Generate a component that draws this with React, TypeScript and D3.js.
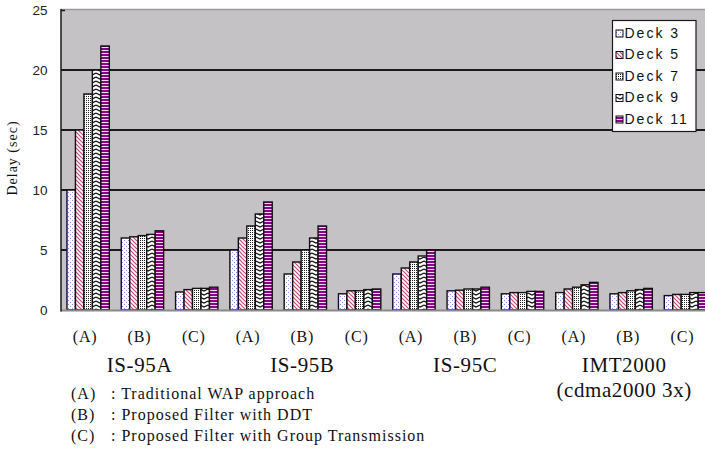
import React from "react";
import * as d3 from "d3";

const systems = ["IS-95A", "IS-95B", "IS-95C", "IMT2000"];
const methods = ["(A)", "(B)", "(C)"];
const decks = ["Deck 3", "Deck 5", "Deck 7", "Deck 9", "Deck 11"];
const deck3 = [10, 6.0, 1.5, 5, 3, 1.35, 3, 1.6, 1.35, 1.45, 1.35, 1.2];
const deck5 = [15, 6.1, 1.7, 6, 4, 1.6, 3.5, 1.65, 1.45, 1.75, 1.45, 1.3];
const deck7 = [18, 6.2, 1.8, 7, 5, 1.6, 4, 1.75, 1.45, 1.9, 1.6, 1.3];
const deck9 = [20, 6.3, 1.8, 8, 6, 1.7, 4.5, 1.75, 1.55, 2.1, 1.7, 1.45];
const deck11 = [22, 6.6, 1.9, 9, 7, 1.75, 5, 1.9, 1.55, 2.3, 1.8, 1.45];
const yTicks = [0, 5, 10, 15, 20, 25];
const footnotes = [
  ["(A)", ": Traditional WAP approach"],
  ["(B)", ": Proposed Filter with DDT"],
  ["(C)", ": Proposed Filter with Group Transmission"],
];

const series = [deck3, deck5, deck7, deck9, deck11];
const patIds = ["p3", "p5", "p7", "p9", "p11"];

export default function App() {
  const W = 705, H = 451;
  const left = 61, top = 10, bottom = 310;
  const step = 54.3;
  const groups = systems.flatMap((s) => methods.map((m) => s + m));
  const x = d3.scaleBand<string>().domain(groups).range([left, left + step * groups.length]).paddingInner(0.22).paddingOuter(0.11);
  const xi = d3.scaleBand<string>().domain(decks).range([0, x.bandwidth()]);
  const y = d3.scaleLinear().domain([0, 25]).range([bottom, top]);
  const serif = "'Liberation Serif', 'DejaVu Serif', serif";
  const sans = "'Liberation Sans', Arial, sans-serif";

  return (
    <svg width={W} height={H} style={{ display: "block", position: "absolute", left: 0, top: 0 }}>
      <defs>
        <pattern id="p3" width={4} height={4} patternUnits="userSpaceOnUse">
          <rect width={4} height={4} fill="#fff" />
          <rect x={0} y={0} width={1} height={1} fill="#8c8cf0" />
          <rect x={2} y={2} width={1} height={1} fill="#8c8cf0" />
        </pattern>
        <pattern id="p5" width={4} height={4} patternUnits="userSpaceOnUse">
          <rect width={4} height={4} fill="#fff" />
          <path d="M-1,-1 L5,5 M-1,3 L1,5 M3,-1 L5,1" stroke="#c8467c" strokeWidth={1.2} />
        </pattern>
        <pattern id="p7" width={2} height={2} patternUnits="userSpaceOnUse">
          <rect width={2} height={2} fill="#fff" />
          <rect x={0} y={0} width={1} height={1} fill="#222" />
        </pattern>
        <pattern id="p9" width={8} height={4} patternUnits="userSpaceOnUse">
          <rect width={8} height={4} fill="#fff" />
          <path d="M0,1 L4,3 L8,1" stroke="#111" strokeWidth={1.2} fill="none" />
        </pattern>
        <pattern id="p11" width={4} height={3} patternUnits="userSpaceOnUse">
          <rect width={4} height={3} fill="#f2d8f2" />
          <rect width={4} height={2} fill="#880088" />
        </pattern>
      </defs>
      <rect x={0} y={0} width={W} height={H} fill="#fff" />
      <rect x={left} y={top} width={W - left} height={bottom - top} fill="#c4c2c4" />
      <line x1={left} x2={W} y1={top - 0.5} y2={top - 0.5} stroke="#9a9a9a" strokeWidth={1.5} />
      {yTicks.filter((t) => t > 0 && t < 25).map((t) => (
        <line key={t} x1={left} x2={W} y1={y(t)} y2={y(t)} stroke="#1a1a1a" strokeWidth={1.8} />
      ))}
      <line x1={left} x2={left + 4} y1={y(25) + 0.5} y2={y(25) + 0.5} stroke="#1a1a1a" strokeWidth={1.5} />
      {series.map((vals, si) =>
        groups.map((g, gi) => {
          const bx = (x(g) as number) + (xi(decks[si]) as number);
          return (
            <rect key={si + "-" + gi} x={bx} y={y(vals[gi])} width={xi.bandwidth()} height={bottom - y(vals[gi])}
              fill={`url(#${patIds[si]})`} stroke="#111" strokeWidth={1.4} />
          );
        })
      )}
      <line x1={left} x2={W} y1={bottom + 0.5} y2={bottom + 0.5} stroke="#8a8a8a" strokeWidth={2} />
      <line x1={left} x2={left} y1={top - 1} y2={bottom + 1.5} stroke="#1a1a1a" strokeWidth={1.5} />
      {yTicks.map((t) => (
        <text key={t} x={47.5} y={y(t) + 5} textAnchor="end" fontFamily={sans} fontSize={13.5} fill="#222">{t}</text>
      ))}
      <text transform="translate(17,158) rotate(-90)" textAnchor="middle" fontFamily={serif} fontSize={14} letterSpacing={1} fill="#111">Delay (sec)</text>
      {groups.map((g, gi) => (
        <text key={g} x={(x(g) as number) + x.bandwidth() / 2 - 3} y={342} textAnchor="middle" fontFamily={serif} fontSize={16} letterSpacing={0.8} fill="#111">
          {methods[gi % 3]}
        </text>
      ))}
      {systems.map((s, si) => {
        const g = groups[si * 3 + 1];
        const cx = (x(g) as number) + x.bandwidth() / 2 - 3;
        return (
          <g key={s}>
            <text x={si === 3 ? cx - 4 : cx} y={371.5} textAnchor="middle" fontFamily={serif} fontSize={21} letterSpacing={0.6} fill="#111">{s}</text>
            {si === 3 && (
              <text x={cx - 4} y={397} textAnchor="middle" fontFamily={serif} fontSize={21} letterSpacing={0.6} fill="#111">(cdma2000 3x)</text>
            )}
          </g>
        );
      })}
      {footnotes.map((f, i) => (
        <g key={i} fontFamily={serif} fontSize={16} letterSpacing={1} fill="#111">
          <text x={71} y={399 + i * 21}>{f[0]}</text>
          <text x={111} y={399 + i * 21}>{f[1]}</text>
        </g>
      ))}
      <g>
        <rect x={612.5} y={20.5} width={83.5} height={111} fill="#fff" stroke="#1a1a1a" strokeWidth={1.2} />
        {decks.map((d, i) => (
          <g key={d}>
            <rect x={616} y={30 + i * 21.5} width={7} height={7} fill={`url(#${patIds[i]})`} stroke="#111" strokeWidth={1} />
            <text x={624.5} y={37.5 + i * 21.5} fontFamily={sans} fontSize={14} letterSpacing={2} fill="#111">{d}</text>
          </g>
        ))}
      </g>
    </svg>
  );
}
